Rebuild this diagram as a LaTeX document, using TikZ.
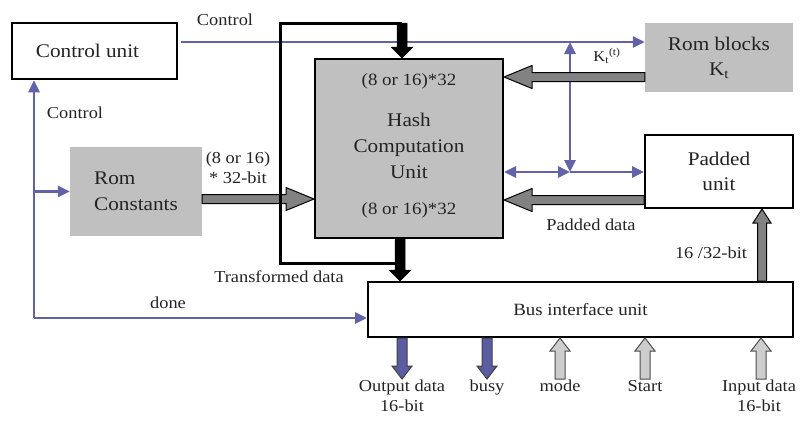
\documentclass[tikz,border=0pt]{standalone}
\usepackage{fontspec}
\setmainfont[FakeStretch=1.1]{Liberation Serif}
\usetikzlibrary{arrows.meta,calc}
\definecolor{sigblue}{RGB}{98,98,168}
\definecolor{boxgray}{RGB}{192,192,192}
\definecolor{busgray}{RGB}{130,130,130}
\definecolor{pingray}{RGB}{205,205,205}
\definecolor{pinblue}{RGB}{92,92,162}
\definecolor{ink}{RGB}{35,35,35}

\begin{document}
\begin{tikzpicture}[x=1pt,y=-1pt,
  >={Triangle[length=12pt,width=11pt]},
  boxtext/.style={font=\fontsize{19.3}{26}\selectfont, align=center, text=ink},
  unit/.style={draw=black, line width=2pt, fill=white, boxtext, inner sep=0pt},
  grayunit/.style={fill=boxgray, boxtext, inner sep=0pt},
  lbl/.style={font=\fontsize{16.7}{20}\selectfont, inner sep=1pt, align=center, text=ink},
  numlbl/.style={lbl, font=\fontsize{17.2}{20}\selectfont},
  sig/.style={draw=sigblue, line width=2.8pt},
  % block arrow: half shaft width, half head width, head length
  fat/.style n args={3}{to path={
    let \p1=(\tikztostart), \p2=(\tikztotarget),
        \n1={atan2(\y2-\y1,\x2-\x1)},
        \n2={veclen(\x2-\x1,\y2-\y1)-#3}
    in ($(\p1)+(\n1+90:#1)$) -- ($(\p1)+(\n1:\n2)+(\n1+90:#1)$)
       -- ($(\p1)+(\n1:\n2)+(\n1+90:#2)$) -- (\p2)
       -- ($(\p1)+(\n1:\n2)+(\n1-90:#2)$) -- ($(\p1)+(\n1:\n2)+(\n1-90:#1)$)
       -- ($(\p1)+(\n1-90:#1)$) -- cycle}},
  busarrow/.style={draw=black, line width=1pt, fill=busgray, fat={4.5pt}{11.5pt}{28pt}},
  busup/.style={draw=black, line width=1pt, fill=busgray, fat={4.5pt}{9pt}{14pt}},
  blkarrow/.style={draw=black, line width=0.5pt, fill=black, fat={5pt}{11pt}{11pt}},
  pinout/.style={draw=black!75, line width=1pt, fill=pinblue, fat={5pt}{10pt}{13pt}},
  pinin/.style={draw=black!70, line width=1pt, fill=pingray, fat={5pt}{10pt}{13pt}},
  loopline/.style={draw=black, line width=3pt, line join=miter}
]
\useasboundingbox (0,0) rectangle (801,423);

% units
\node[unit, line width=2.5pt, minimum width=165pt, minimum height=56pt] (ctrl) at (94.5,51) {\hspace*{-14pt}Control unit};
\node[grayunit, minimum width=132pt, minimum height=89pt, align=left] (romc) at (136,191.5) {Rom\\Constants};
\node[unit, fill=boxgray, minimum width=188pt, minimum height=179pt] (hash) at (409,148.5) {};
\node[boxtext] (hashtxt) at (409,146) {Hash\\Computation\\Unit};
\node[numlbl] (hashtop) at (409,81) {(8 or 16)*32};
\node[numlbl] (hashbot) at (409,210) {(8 or 16)*32};
\node[grayunit, minimum width=148pt, minimum height=69pt, font=\fontsize{19.3}{25}\selectfont] (romk) at (719,57.5) {Rom blocks\\K\textsubscript{t}};
\node[unit, minimum width=148pt, minimum height=73pt, font=\fontsize{19.3}{25}\selectfont] (pad) at (719,171.5) {Padded\\unit};
\node[unit, minimum width=425pt, minimum height=55pt, font=\fontsize{17.2}{20}\selectfont] (bus) at (580.5,309.5) {Bus interface unit};

% pins below the bus interface
\node[lbl, anchor=north] (out) at (402,379) {Output data\\16-bit};
\node[lbl, anchor=north] (busy) at (487,379) {busy};
\node[lbl, anchor=north] (mode) at (560,379) {mode};
\node[lbl, anchor=north] (start) at (645,379) {Start};
\node[lbl, anchor=north] (inp) at (759,379) {Input data\\16-bit};

% control signals
\coordinate (ctl) at (181,42);
\coordinate (dn) at (34,318);
\coordinate (jn) at (570,172);
\draw[sig,->] (ctl) -- (ctl -| romk.west);
\draw[sig,->] (dn) -- (dn |- ctrl.south);
\draw[sig,->] (dn) -- (dn -| bus.west);
\draw[sig,->] (dn |- romc.west) -- (romc.west);
\draw[sig,<->] (hash.east |- jn) -- (jn);
\draw[sig,->] (jn) -- (pad.west |- jn);
\draw[sig,<->] (jn) -- (jn |- ctl);

\node[lbl] (lctl) at (225,20) {Control};
\node[lbl] (lctl2) at (75,113) {Control};
\node[lbl] (ldone) at (168,303) {done};
\node[lbl, font=\fontsize{15}{16}\selectfont] (lk) at (607,56) {K\textsubscript{t}\textsuperscript{(t)}};

% data paths
\draw[busarrow] (romc.east |- 0,199) to (hash.west |- 0,199);
\draw[busarrow] (romk.west |- 0,77) to (hash.east |- 0,77);
\draw[busarrow] (pad.west |- 0,200) to (hash.east |- 0,200);
\draw[busup] (bus.north -| 762,0) to (pad.south -| 762,0);
\node[lbl] (lwid) at (238,168) {(8 or 16)\\* 32-bit};
\node[lbl] (lpad) at (591,225) {Padded data};
\node[lbl] (lbit) at (711,253) {16 /32-bit};

% transformed data loop
\coordinate (bh) at (400,263);
\coordinate (tl) at (402,23);
\draw[loopline] (bh) -- (bh -| 280,0) -- (280,23) -- (tl);
\draw[blkarrow] (tl) to (tl |- hash.north);
\draw[blkarrow] (hash.south -| bh) to (bus.north -| bh);
\node[lbl] (ltr) at (279,277) {Transformed data};

% pins
\draw[pinout] (bus.south -| out.north) to (out.north);
\draw[pinout] (bus.south -| busy.north) to (busy.north);
\draw[pinin] (mode.north) to (bus.south -| mode.north);
\draw[pinin] (start.north) to (bus.south -| start.north);
\draw[pinin] ([xshift=2pt]inp.north) to (bus.south -| 761,0);
\end{tikzpicture}
\end{document}
